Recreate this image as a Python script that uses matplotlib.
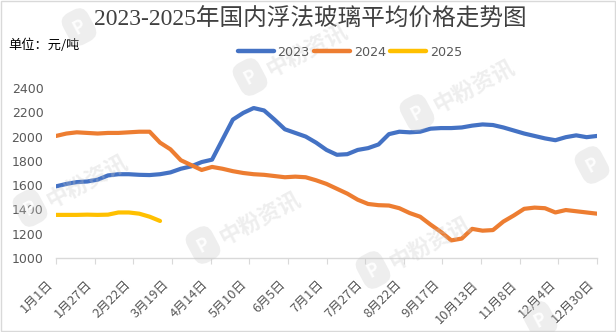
import numpy as np
import matplotlib
matplotlib.use("Agg")
import matplotlib.pyplot as plt
from matplotlib.patches import Rectangle

plt.rcParams['font.family'] = ['Noto Sans CJK SC', 'DejaVu Sans']

# Weekly average float glass price (元/吨), day-of-year positions
week_days = [7 * i for i in range(53)]

price_2023 = [1590, 1610, 1625, 1630, 1645, 1680, 1690, 1690, 1685, 1683,
              1690, 1705, 1735, 1755, 1790, 1810, 1975, 2140, 2195, 2235,
              2215, 2140, 2060, 2030, 2000, 1950, 1890, 1850, 1855, 1890,
              1905, 1935, 2020, 2040, 2035, 2040, 2065, 2070, 2070, 2075,
              2090, 2100, 2095, 2075, 2050, 2025, 2005, 1985, 1970, 1995,
              2010, 1995, 2005]

price_2024 = [2005, 2025, 2035, 2030, 2025, 2030, 2030, 2035, 2040, 2040,
              1950, 1895, 1805, 1765, 1725, 1750, 1735, 1715, 1700, 1690,
              1685, 1675, 1665, 1670, 1665, 1640, 1610, 1570, 1530, 1480,
              1445, 1435, 1432, 1410, 1370, 1340, 1275, 1215, 1145, 1160,
              1240, 1225, 1230, 1300, 1350, 1405, 1415, 1410, 1375, 1395,
              1385, 1375, 1365]

price_2025 = [1355, 1355, 1355, 1357, 1355, 1357, 1375, 1375, 1365, 1340,
              1305]

series_names = ["2023", "2024", "2025"]
series_colors = ["#4472C4", "#ED7D31", "#FFC000"]

tick_labels = ["1月1日", "1月27日", "2月22日", "3月19日", "4月14日", "5月10日",
               "6月5日", "7月1日", "7月27日", "8月22日", "9月17日", "10月13日",
               "11月8日", "12月4日", "12月30日"]
tick_step = 26

W, H = 616, 332
fig = plt.figure(figsize=(W / 100, H / 100), dpi=100)
fig.patch.set_facecolor("white")


def fx(px):
    return px / W


def fy(py):
    return 1 - py / H


ax = fig.add_axes([fx(56), fy(258), fx(597) - fx(56), fy(88) - fy(258)])

series = [price_2023, price_2024, price_2025]
for name, vals, col in zip(series_names, series, series_colors):
    ax.plot(week_days[:len(vals)], vals, color=col, lw=3.0, label=name,
            solid_capstyle="round", solid_joinstyle="round", zorder=3)

ax.set_xlim(0, 364)
ax.set_ylim(1000, 2400)
ax.set_yticks(np.arange(1000, 2401, 200))
ax.set_xticks(np.arange(len(tick_labels)) * tick_step)
ax.set_xticklabels(tick_labels, rotation=45, ha="right", va="top",
                   rotation_mode="default")

for s in ["top", "right", "left"]:
    ax.spines[s].set_visible(False)
ax.spines["bottom"].set_color("#d9d9d9")
ax.spines["bottom"].set_linewidth(1.0)
ax.tick_params(axis="x", direction="out", length=4.5, color="#d9d9d9",
               labelsize=9.3, labelcolor="#595959", pad=10)
ax.tick_params(axis="y", length=0, labelsize=9, labelcolor="#595959", pad=9)
for lab in ax.get_yticklabels():
    lab.set_fontfamily(["DejaVu Sans"])
ax.set_facecolor("none")

# Title and unit
fig.text(fx(310), fy(19), "2023-2025年国内浮法玻璃平均价格走势图",
         ha="center", va="center", fontsize=17, color="#404040",
         fontweight="medium", family=["Liberation Serif", "Noto Sans CJK SC"])
fig.text(fx(8), fy(45), "单位：元/吨", ha="left", va="center",
         fontsize=9.5, color="#000000")

leg = fig.legend(loc="center", bbox_to_anchor=(fx(350), fy(52)), ncol=3,
                 frameon=False, fontsize=9.2, handlelength=2.8,
                 handletextpad=0.3, columnspacing=0.35)
for t in leg.get_texts():
    t.set_color("#595959")
    t.set_fontfamily(["DejaVu Sans"])
for h in leg.get_lines():
    h.set_linewidth(3.2)

# Brand watermark tiles: logo position and whether the caption fits
marks = [(79, 27, False), (250, 77, True), (417, 113, True), (592, 165, False),
         (30, 208, True), (203, 245, True), (373, 270, True), (540, 320, False)]
for (px, py, caption) in marks:
    fig.text(fx(px), fy(py), "P", ha="center", va="center", fontsize=13,
             color="white", fontweight="bold", rotation=28, alpha=0.9,
             bbox=dict(boxstyle="round,pad=0.45,rounding_size=0.6",
                       fc="#c8c8c8", ec="none", alpha=0.3), zorder=5)
    if caption:
        ang = np.deg2rad(28)
        tx = px + 20 + 42 * np.cos(ang)
        ty = py - 6 - 42 * np.sin(ang)
        fig.text(fx(tx), fy(ty), "中粉资讯", ha="center", va="center",
                 fontsize=16, color="#c8c8c8", fontweight="bold", rotation=28,
                 alpha=0.3, zorder=5)

# Chart frame
fig.add_artist(Rectangle((0.0015, 0.003), 0.997, 0.994,
                         transform=fig.transFigure, fill=False,
                         ec="#d9d9d9", lw=1.0))

fig.savefig("out.png", dpi=100, facecolor="white")
